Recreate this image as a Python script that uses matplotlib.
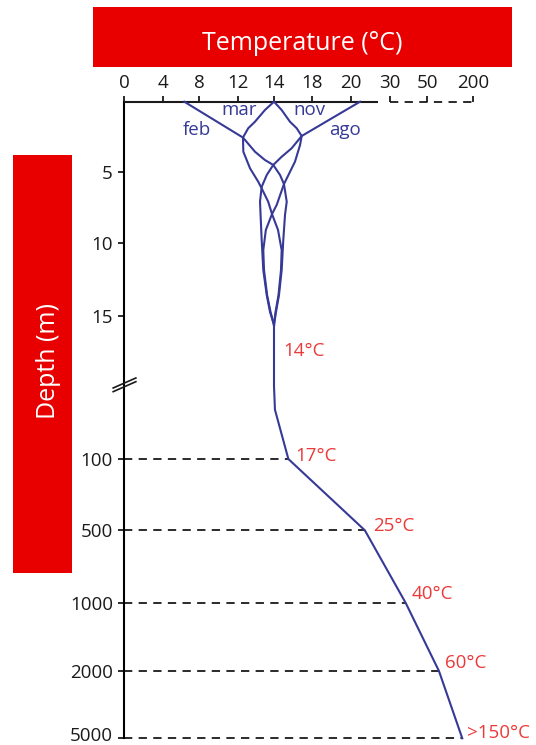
import numpy as np
import matplotlib
matplotlib.use("Agg")
import matplotlib.pyplot as plt
import matplotlib.transforms as mtransforms
from matplotlib.patches import Rectangle

plt.rcParams['font.family'] = ['Open Sans', 'DejaVu Sans']

# ---------------- data ----------------
temp_ticks = [0, 4, 8, 12, 14, 18, 20, 30, 50, 200]
depth_ticks = [5, 10, 15, 100, 500, 1000, 2000, 5000]

months = ["feb", "mar", "nov", "ago"]
feb_depth = [0, 2.54, 3.54, 4.13, 4.48, 5.19, 5.83, 7.07, 8.0, 9.77, 11.85, 13.56, 14.72, 15.64]
feb_temp = [6.36, 12.29, 12.95, 13.5, 13.96, 14.63, 15.04, 15.33, 15.15, 14.97, 14.8, 14.52, 14.21, 14.0]
mar_depth = [0, 0.59, 1.42, 1.88, 2.54, 3.54, 4.72, 5.66, 6.13, 7.07, 7.94, 9.06, 10.47, 11.84, 13.56, 14.72, 15.64]
mar_temp = [14.0, 13.5, 12.95, 12.58, 12.29, 12.31, 12.68, 13.13, 13.32, 13.68, 13.89, 14.42, 14.8, 14.73, 14.47, 14.16, 14.0]
nov_depth = [0, 0.59, 1.42, 1.88, 2.43, 3.07, 4.25, 5.83, 7.3, 7.94, 9.06, 10.47, 11.84, 13.56, 14.72, 15.64]
nov_temp = [14.0, 14.8, 15.67, 16.37, 16.89, 16.72, 16.19, 15.04, 14.28, 13.89, 13.55, 13.41, 13.45, 13.62, 13.81, 14.0]
ago_depth = [0, 2.43, 3.30, 3.9, 4.48, 5.19, 6.03, 7.06, 8.0, 9.74, 11.84, 13.56, 14.72, 15.64]
ago_temp = [22.37, 16.89, 15.84, 14.8, 13.96, 13.6, 13.32, 13.23, 13.26, 13.32, 13.41, 13.6, 13.78, 14.0]

deep_depth = [15.64, 20, 46, 100, 500, 1000, 2000, 5000]
deep_temp = [14.0, 14.0, 14.1, 15.5, 23.6, 38.5, 89, 165]
deep_labels = ["17°C", "25°C", "40°C", "60°C", ">150°C"]   # at depths 100..5000
shallow_label = "14°C"
shallow_label_depth = 17.5
shallow_label_temp = 14.0

# ---------------- layout / scales ----------------
W, H = 536, 745
TEMP_POS = [124, 162.7, 199.3, 237.7, 274, 312.3, 350.7, 390, 427, 473]
DEPTH_KNOTS = [0, 5, 10, 15, 20, 100, 500, 1000, 2000, 5000]
DEPTH_POS = [101.7, 172.3, 243.3, 316, 386, 459, 530.3, 603, 671, 738.3]

def fx(v):
    return np.interp(v, temp_ticks, TEMP_POS)

def ix(p):
    return np.interp(p, TEMP_POS, temp_ticks)

def fy(v):
    return np.interp(v, DEPTH_KNOTS, DEPTH_POS)

def iy(p):
    return np.interp(p, DEPTH_POS, DEPTH_KNOTS)

BLUE = '#363A96'
RED_TXT = '#EC3A3A'
RED_BOX = '#E80000'

fig = plt.figure(figsize=(W / 100, H / 100), dpi=100)
ax = fig.add_axes([124 / W, 1 - 738.3 / H, (473 - 124) / W, (738.3 - 101.7) / H])
ax.set_xscale('function', functions=(fx, ix))
ax.set_yscale('function', functions=(fy, iy))
ax.set_xlim(0, 200)
ax.set_ylim(5000, 0)
ax.patch.set_visible(False)

for s in ['top', 'right', 'bottom']:
    ax.spines[s].set_visible(False)
ax.spines['left'].set_linewidth(1.5)

ax.xaxis.set_ticks_position('top')
ax.set_xticks(temp_ticks)
ax.set_xticklabels([str(t) for t in temp_ticks])
ax.set_yticks(depth_ticks)
ax.set_yticklabels([str(d) for d in depth_ticks])
ax.minorticks_off()
ax.tick_params(axis='x', direction='out', length=4, width=1.3, pad=3,
               labelsize=13.5, colors='#1a1a1a')
ax.tick_params(axis='y', direction='out', length=4, width=1.3, pad=4,
               labelsize=13.5, colors='#1a1a1a')

# nudge the lowest depth label up so it stays inside the figure
fig.canvas.draw()
last = ax.get_yticklabels()[-1]
last.set_transform(last.get_transform() +
                   mtransforms.ScaledTranslation(0, 4.5 / 100, fig.dpi_scale_trans))

# top axis line: solid part then dashed part
ax.plot([0, 26.9], [0, 0], color='#1a1a1a', lw=1.5, clip_on=False,
        solid_capstyle='butt', zorder=3)
ax.plot([30, 200], [0, 0], color='#1a1a1a', lw=1.3, ls=(0, (4.6, 3.5)),
        clip_on=False, zorder=3)

# axis break mark
for dy in (0.0, 0.0058):
    ax.plot([-0.031, 0.034], [0.5445 + dy, 0.5602 + dy], transform=ax.transAxes,
            color='#1a1a1a', lw=1.2, clip_on=False, zorder=4)

# dashed reference lines
ax.hlines(deep_depth[3:], 0, deep_temp[3:], colors='#1a1a1a', lw=1.3,
          linestyles=[(0, (4.6, 3.5))], clip_on=False, zorder=2)

# month curves
curves = {"feb": (feb_temp, feb_depth), "mar": (mar_temp, mar_depth),
          "nov": (nov_temp, nov_depth), "ago": (ago_temp, ago_depth)}
label_off = {"feb": (8.9, -24), "mar": (-25.2, -9.6), "nov": (25.2, -9.6), "ago": (-10.8, -24)}
for m in months:
    t, d = curves[m]
    ax.plot(t, d, color=BLUE, lw=1.5, clip_on=False, zorder=5)
    ax.annotate(m, (t[0], d[0]), xytext=label_off[m], textcoords='offset points',
                ha='center', va='baseline', color=BLUE, fontsize=13.5,
                annotation_clip=False)

# deep profile
ax.plot(deep_temp, deep_depth, color=BLUE, lw=1.5, clip_on=False, zorder=5)

ax.annotate(shallow_label, (shallow_label_temp, shallow_label_depth), xytext=(6.7, 0),
            textcoords='offset points', ha='left', va='center', color=RED_TXT,
            fontsize=13.5, annotation_clip=False)
offs = [(5, 2.4), (5.8, 3.3), (4.3, 6.5), (4.3, 5.8), (3.6, 3.6)]
for lab, t, d, o in zip(deep_labels, deep_temp[3:], deep_depth[3:], offs):
    ax.annotate(lab, (t, d), xytext=o, textcoords='offset points', ha='left',
                va='center', color=RED_TXT, fontsize=13.5, annotation_clip=False)

# header boxes
fig.patches.append(Rectangle((93 / W, 1 - 66.7 / H), (511.7 - 93) / W, (66.7 - 7.3) / H,
                             transform=fig.transFigure, facecolor=RED_BOX,
                             edgecolor='none', zorder=1))
fig.text(302.3 / W, 1 - 50 / H, "Temperature (°C)", ha='center', va='baseline',
         fontsize=18, color='white', zorder=2)

fig.patches.append(Rectangle((13.3 / W, 1 - 573 / H), (71.7 - 13.3) / W, (573 - 155) / H,
                             transform=fig.transFigure, facecolor=RED_BOX,
                             edgecolor='none', zorder=1))
fig.text(55 / W, 1 - 361 / H, "Depth (m)", ha='center', va='baseline', rotation=90,
         rotation_mode='anchor', fontsize=18, color='white', zorder=2)

fig.savefig("out.png", dpi=100)
